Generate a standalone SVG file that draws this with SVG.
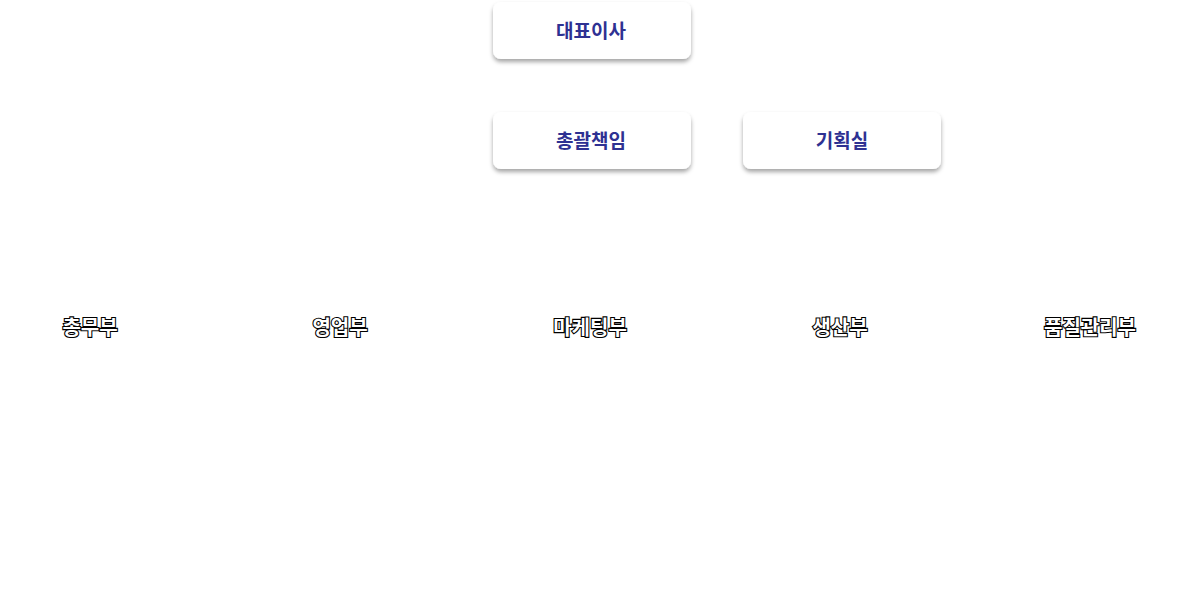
<svg xmlns="http://www.w3.org/2000/svg" width="1181" height="610" viewBox="0 0 1181 610">
<defs>
<filter id="sh" x="-10%" y="-20%" width="120%" height="160%">
<feDropShadow dx="0" dy="3" stdDeviation="2" flood-color="#000" flood-opacity="0.35"/>
</filter>
</defs>
<style>
.box{fill:#fff;filter:url(#sh);}
.bt{font-family:"Noto Sans CJK KR","Noto Sans",sans-serif;font-weight:bold;font-size:19px;fill:#2e3192;text-anchor:middle;}
.lt{font-family:"Noto Sans CJK KR","Noto Sans",sans-serif;font-weight:bold;font-size:20px;fill:#fff;stroke:#000;stroke-width:2.2px;paint-order:stroke;text-anchor:middle;}
</style>
<rect width="1181" height="610" fill="#fff"/>
<g id="connectors"></g>
<g id="node-ceo"><rect class="box" x="493" y="2" width="198" height="57" rx="8"/><text class="bt" x="591" y="38">대표이사</text></g>
<g id="node-general"><rect class="box" x="493" y="112" width="198" height="57" rx="8"/><text class="bt" x="591" y="148">총괄책임</text></g>
<g id="node-planning"><rect class="box" x="743" y="112" width="198" height="57" rx="8"/><text class="bt" x="842" y="148">기획실</text></g>
<g id="node-general-affairs"><text class="lt" x="90" y="335">총무부</text></g>
<g id="node-sales"><text class="lt" x="340" y="335">영업부</text></g>
<g id="node-marketing"><text class="lt" x="590" y="335">마케팅부</text></g>
<g id="node-production"><text class="lt" x="840" y="335">생산부</text></g>
<g id="node-quality"><text class="lt" x="1090" y="335">품질관리부</text></g>
</svg>
